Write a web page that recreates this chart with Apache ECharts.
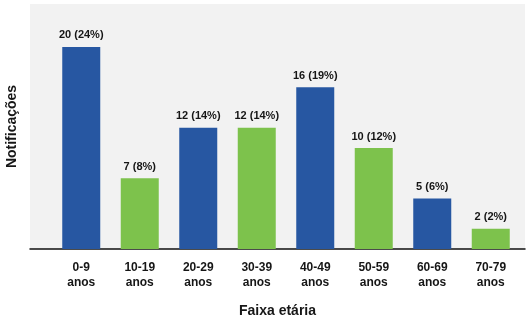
<!DOCTYPE html>
<html>
<head>
<meta charset="utf-8">
<script src="https://cdn.jsdelivr.net/npm/echarts@6/dist/echarts.min.js"></script>
<style>
  html, body { margin: 0; padding: 0; background: #ffffff; }
  #chart { width: 527px; height: 322px; }
</style>
</head>
<body>
<div id="chart"></div>
<script>
// Notificações por faixa etária
const categories = ['0-9\nanos', '10-19\nanos', '20-29\nanos', '30-39\nanos', '40-49\nanos', '50-59\nanos', '60-69\nanos', '70-79\nanos'];
const counts = [20, 7, 12, 12, 16, 10, 5, 2];
const percents = [24, 8, 14, 14, 19, 12, 6, 2];
const barColors = ['#2757A2', '#7DC24C'];

const FONT = '"Liberation Sans", Arial, Helvetica, sans-serif';
const INK = '#161616';

const chart = echarts.init(document.getElementById('chart'), null, { renderer: 'canvas' });

chart.setOption({
  animation: false,
  backgroundColor: '#ffffff',
  textStyle: { fontFamily: FONT },
  grid: [
    // Panel: grey background, baseline and axis titles
    { left: 30, right: 2, top: 4, bottom: 73, show: true, backgroundColor: '#F2F2F2', borderWidth: 0, containLabel: false, outerBoundsMode: 'none' },
    // Bars
    { left: 52, right: 7, top: 4, bottom: 73, containLabel: false, outerBoundsMode: 'none' }
  ],
  xAxis: [
    {
      gridIndex: 0, type: 'value', min: 0, max: 1,
      axisLine: { show: true, lineStyle: { color: '#111111', width: 1.5 } },
      axisTick: { show: false }, axisLabel: { show: false }, splitLine: { show: false },
      name: 'Faixa etária', nameLocation: 'middle', nameGap: 55,
      nameTextStyle: { fontFamily: FONT, fontWeight: 'bold', fontSize: 14, color: INK }
    },
    {
      gridIndex: 1, type: 'category', data: categories,
      axisLine: { show: false }, axisTick: { show: false },
      axisLabel: {
        margin: 11, fontFamily: FONT, fontWeight: 'bold', fontSize: 12,
        color: INK, lineHeight: 15
      }
    }
  ],
  yAxis: [
    {
      gridIndex: 0, type: 'value', min: 0, max: 1,
      axisLine: { show: false }, axisTick: { show: false }, axisLabel: { show: false }, splitLine: { show: false },
      name: 'Notificações', nameLocation: 'middle', nameGap: 11, nameRotate: 90,
      nameTextStyle: { fontFamily: FONT, fontWeight: 'bold', fontSize: 14, color: INK }
    },
    {
      gridIndex: 1, type: 'value', min: 0, max: 24.25,
      axisLine: { show: false }, axisTick: { show: false }, axisLabel: { show: false }, splitLine: { show: false }
    }
  ],
  series: [
    {
      type: 'bar', xAxisIndex: 1, yAxisIndex: 1,
      barWidth: 38,
      data: counts.map((v, i) => ({ value: v, itemStyle: { color: barColors[i % 2] } })),
      label: {
        show: true, position: 'top', distance: 6,
        fontFamily: FONT, fontWeight: 'bold', fontSize: 11, color: INK,
        formatter: p => `${counts[p.dataIndex]} (${percents[p.dataIndex]}%)`
      }
    }
  ]
});
</script>
</body>
</html>
